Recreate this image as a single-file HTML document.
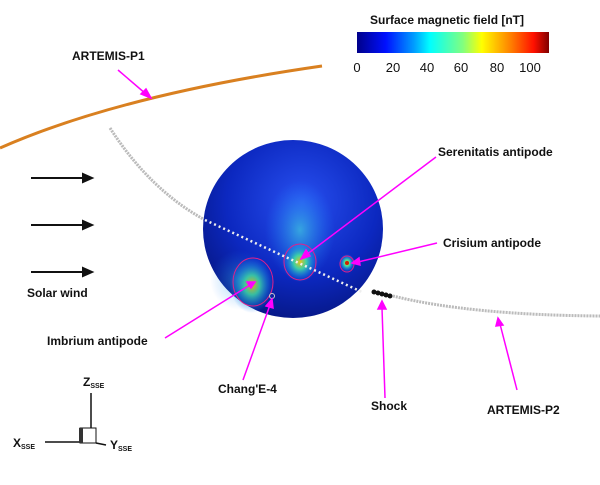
<!DOCTYPE html>
<html><head><style>
body{margin:0;background:#fff;width:600px;height:480px;overflow:hidden}
text{font-family:"Liberation Sans",sans-serif;font-weight:bold;font-size:12px;fill:#111}
</style></head><body>
<svg width="600" height="480" viewBox="0 0 600 480">
<defs>
<linearGradient id="cb" x1="0" x2="1">
<stop offset="0" stop-color="#00008a"/><stop offset="0.15" stop-color="#0010ff"/><stop offset="0.3" stop-color="#00a0ff"/><stop offset="0.38" stop-color="#00ffff"/><stop offset="0.55" stop-color="#80ff80"/><stop offset="0.65" stop-color="#ffff00"/><stop offset="0.8" stop-color="#ff8000"/><stop offset="0.92" stop-color="#ff1000"/><stop offset="1" stop-color="#800000"/>
</linearGradient>
<radialGradient id="sp" cx="0.55" cy="0.35" r="0.7">
<stop offset="0" stop-color="#2850f0"/><stop offset="0.6" stop-color="#0c28c0"/><stop offset="1" stop-color="#061680"/>
</radialGradient>
<radialGradient id="hot"><stop offset="0" stop-color="#ffd000"/><stop offset="0.35" stop-color="#40e0a0"/><stop offset="0.7" stop-color="#20a0e0" stop-opacity="0.5"/><stop offset="1" stop-color="#2080ff" stop-opacity="0"/></radialGradient>
<radialGradient id="cy"><stop offset="0" stop-color="#40d0e0" stop-opacity="0.7"/><stop offset="1" stop-color="#2080ff" stop-opacity="0"/></radialGradient>
</defs>
<text x="447" y="24" text-anchor="middle">Surface magnetic field [nT]</text>
<rect x="357" y="32" width="192" height="21" fill="url(#cb)"/>
<text x="357" y="72" text-anchor="middle" style="font-weight:normal;font-size:13px">0</text>
<text x="393" y="72" text-anchor="middle" style="font-weight:normal;font-size:13px">20</text>
<text x="427" y="72" text-anchor="middle" style="font-weight:normal;font-size:13px">40</text>
<text x="461" y="72" text-anchor="middle" style="font-weight:normal;font-size:13px">60</text>
<text x="497" y="72" text-anchor="middle" style="font-weight:normal;font-size:13px">80</text>
<text x="530" y="72" text-anchor="middle" style="font-weight:normal;font-size:13px">100</text>
<path d="M0 148 Q120 95 322 66" stroke="#d98020" stroke-width="3" fill="none"/>
<path d="M110 128 Q150 190 205 220" stroke="#bbb" stroke-width="3" fill="none" stroke-dasharray="2 1"/>
<ellipse cx="293" cy="229" rx="90" ry="89" fill="url(#sp)"/>
<ellipse cx="300" cy="230" rx="35" ry="50" fill="url(#cy)"/>
<ellipse cx="240" cy="280" rx="30" ry="30" fill="url(#cy)" opacity="0.6"/>
<ellipse cx="252" cy="285" rx="22" ry="28" fill="url(#hot)" opacity="0.8"/>
<ellipse cx="300" cy="262" rx="18" ry="20" fill="url(#hot)" opacity="0.9"/>
<ellipse cx="347" cy="263" rx="8" ry="9" fill="url(#hot)"/>
<circle cx="347" cy="263" r="2" fill="#d02000"/>
<ellipse cx="253" cy="282" rx="20" ry="24" fill="none" stroke="#e0208a" stroke-width="1"/>
<ellipse cx="300" cy="262" rx="16" ry="18" fill="none" stroke="#e0208a" stroke-width="1"/>
<ellipse cx="347" cy="264" rx="7" ry="8" fill="none" stroke="#e0208a" stroke-width="1"/>
<circle cx="272" cy="296" r="2.5" fill="none" stroke="#ccc"/>
<path d="M205 220 L362 292" stroke="#eee" stroke-width="2.5" fill="none" stroke-dasharray="2 3"/>
<path d="M393 296 Q470 315 600 316" stroke="#bbb" stroke-width="3" fill="none" stroke-dasharray="2 1"/>
<g fill="#111"><circle cx="374" cy="292" r="2.5"/><circle cx="378" cy="293" r="2.5"/><circle cx="382" cy="294" r="2.5"/><circle cx="386" cy="295" r="2.5"/><circle cx="390" cy="296" r="2.5"/></g>
<g stroke="#111" stroke-width="2" fill="#111">
<line x1="31" y1="178" x2="84" y2="178"/><path d="M92 178 L83 174 L83 182Z"/>
<line x1="31" y1="225" x2="84" y2="225"/><path d="M92 225 L83 221 L83 229Z"/>
<line x1="31" y1="272" x2="84" y2="272"/><path d="M92 272 L83 268 L83 276Z"/>
</g>
<g stroke="#ff00ff" stroke-width="1.5" fill="#ff00ff">
<line x1="118" y1="70" x2="146" y2="94"/><path d="M151 98 L141 94 L146 89Z"/>
<line x1="436" y1="157" x2="306" y2="255"/><path d="M301 259 L306 250 L310 256Z"/>
<line x1="437" y1="243" x2="358" y2="262"/><path d="M352 263 L359 258 L360 265Z"/>
<line x1="165" y1="338" x2="250" y2="285"/><path d="M255 282 L247 282 L251 288Z"/>
<line x1="243" y1="380" x2="270" y2="305"/><path d="M272 299 L266 306 L273 308Z"/>
<line x1="385" y1="398" x2="382" y2="308"/><path d="M382 301 L378 309 L386 309Z"/>
<line x1="517" y1="390" x2="500" y2="324"/><path d="M498 318 L496 326 L503 325Z"/>
</g>
<text x="72" y="60">ARTEMIS-P1</text>
<text x="438" y="156">Serenitatis antipode</text>
<text x="443" y="247">Crisium antipode</text>
<text x="27" y="297">Solar wind</text>
<text x="47" y="345">Imbrium antipode</text>
<text x="218" y="393">Chang'E-4</text>
<text x="371" y="410">Shock</text>
<text x="487" y="414">ARTEMIS-P2</text>
<g stroke="#111" stroke-width="1.5" fill="none">
<line x1="91" y1="393" x2="91" y2="428"/>
<rect x="80" y="428" width="16" height="15" stroke-width="1"/>
<line x1="45" y1="442" x2="80" y2="442"/>
<line x1="96" y1="443" x2="106" y2="445"/>
</g>
<rect x="79" y="428" width="4" height="15" fill="#333"/>
<text x="83" y="386">Z<tspan style="font-size:7px" dy="2">SSE</tspan></text>
<text x="13" y="447">X<tspan style="font-size:7px" dy="2">SSE</tspan></text>
<text x="110" y="449">Y<tspan style="font-size:7px" dy="2">SSE</tspan></text>
</svg>
</body></html>
